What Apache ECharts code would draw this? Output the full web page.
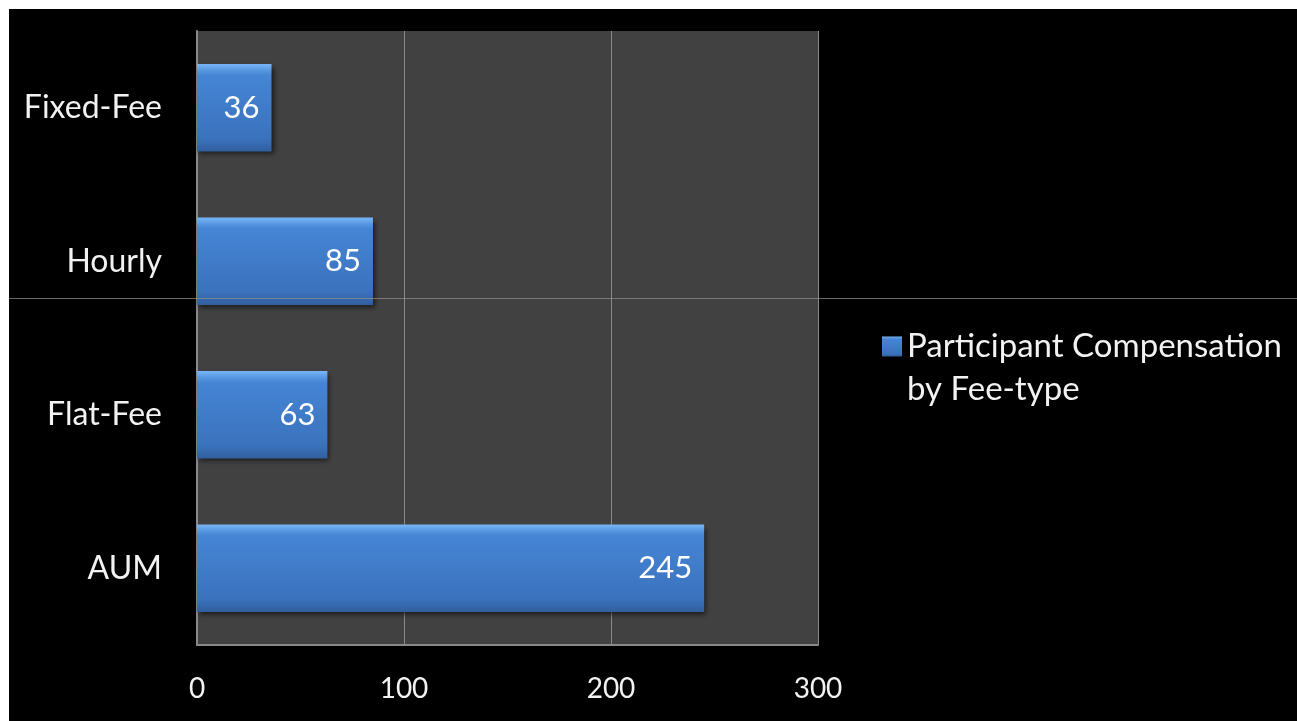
<!DOCTYPE html>
<html>
<head>
<meta charset="utf-8">
<script src="https://cdn.jsdelivr.net/npm/echarts@6/dist/echarts.min.js"></script>
<style>
  html, body { margin: 0; padding: 0; background: #fff; }
  #main { position: absolute; left: 9px; top: 9px; width: 1288px; height: 712px; }
</style>
</head>
<body>
<div id="main"></div>
<script>
// categories bottom -> top (category axis starts at bottom)
const categories = ['AUM', 'Flat-Fee', 'Hourly', 'Fixed-Fee']
const values = [245, 63, 85, 36]
const seriesName = 'Participant Compensation by Fee-type'
const xTicks = [0, 100, 200, 300]

const chart = echarts.init(document.getElementById('main'))

const font = 'Lato, "Open Sans", sans-serif'

const option = {
  backgroundColor: '#000',
  animation: false,
  grid: {
    left: 188,
    top: 22,
    right: 479,
    bottom: 76,
    show: true,
    backgroundColor: '#414141',
    borderWidth: 0
  },
  legend: {
    left: 868,
    top: 268,
    itemWidth: 20,
    itemHeight: 20,
    icon: 'rect',
    // empty first line so the icon lines up with the first text line
    formatter: () => ' \nParticipant Compensation\nby Fee-type',
    textStyle: {
      color: '#f2f2f2',
      fontFamily: font,
      fontSize: 33,
      lineHeight: 43
    }
  },
  xAxis: {
    type: 'value',
    min: xTicks[0],
    max: xTicks[xTicks.length - 1],
    interval: 100,
    axisLine: { show: true, lineStyle: { color: '#8a8a8a', width: 2 } },
    axisTick: { show: false },
    splitLine: { show: true, lineStyle: { color: '#8a8a8a', width: 1 } },
    axisLabel: {
      color: '#f2f2f2',
      fontFamily: font,
      fontSize: 28,
      margin: 30
    }
  },
  yAxis: {
    type: 'category',
    data: categories,
    axisLine: { show: true, lineStyle: { color: '#8a8a8a', width: 2 } },
    axisTick: { show: false },
    splitLine: { show: false },
    axisLabel: {
      color: '#f2f2f2',
      fontFamily: font,
      fontSize: 32,
      margin: 35
    }
  },
  series: [
    {
      name: seriesName,
      type: 'bar',
      data: values,
      barCategoryGap: '43%',
      itemStyle: {
        color: new echarts.graphic.LinearGradient(0, 0, 0, 1, [
          { offset: 0, color: '#78b6f7' },
          { offset: 0.08, color: '#5595e0' },
          { offset: 0.13, color: '#4585d5' },
          { offset: 0.85, color: '#3b72bd' },
          { offset: 1, color: '#315f9e' }
        ]),
        shadowColor: 'rgba(0,0,0,0.6)',
        shadowBlur: 5,
        shadowOffsetX: 2,
        shadowOffsetY: 3
      },
      label: {
        show: true,
        position: 'insideRight',
        distance: 12,
        color: '#fff',
        fontFamily: font,
        fontSize: 31
      }
    }
  ],
  graphic: [
    {
      type: 'line',
      z: 100,
      silent: true,
      shape: { x1: 0, y1: 289.5, x2: 1288, y2: 289.5 },
      style: { stroke: 'rgba(140,140,140,0.75)', lineWidth: 1 }
    }
  ]
}

chart.setOption(option)
</script>
</body>
</html>
